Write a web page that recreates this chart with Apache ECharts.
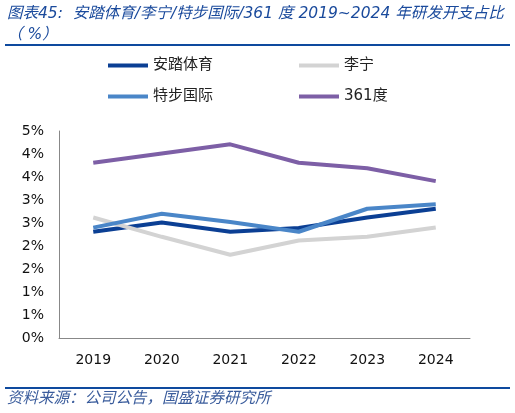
<!DOCTYPE html>
<html>
<head>
<meta charset="utf-8">
<script src="https://cdn.jsdelivr.net/npm/echarts@6/dist/echarts.min.js"></script>
<style>
  html, body { margin: 0; padding: 0; background: #fff; }
  #chart { width: 515px; height: 413px; }
</style>
</head>
<body>
<div id="chart"></div>
<script>
// data (%)
var years = ['2019', '2020', '2021', '2022', '2023', '2024'];
var anta = [2.31, 2.51, 2.31, 2.39, 2.62, 2.81];
var lining = [2.62, 2.20, 1.81, 2.12, 2.20, 2.40];
var xtep = [2.40, 2.70, 2.52, 2.31, 2.81, 2.91];
var d361 = [3.81, 4.01, 4.21, 3.81, 3.69, 3.41];

var names = ['安踏体育', '李宁', '特步国际', '361度'];
var colors = ['#0B3F94', '#D3D3D3', '#4A86C8', '#7D5FA6'];

var cjk = "'DejaVu Sans', 'Noto Sans CJK SC', sans-serif";

function line(name, data, color) {
  return {
    name: name,
    type: 'line',
    data: data,
    symbol: 'none',
    lineStyle: { width: 4, color: color },
    itemStyle: { color: color }
  };
}

var legendText = { fontSize: 15, color: '#222', fontFamily: cjk };

var chart = echarts.init(document.getElementById('chart'));
var option = {
  animation: false,
  textStyle: { fontFamily: cjk },
  graphic: [
    {
      type: 'text', left: 7, top: 3,
      style: {
        text: '图表45:  安踏体育/李宁/特步国际/361 度 2019~2024 年研发开支占比\n（ %）',
        font: 'italic 15.5px ' + cjk,
        fill: '#1A4A9C',
        lineHeight: 21
      }
    },
    { type: 'rect', shape: { x: 5, y: 44, width: 505, height: 2 }, style: { fill: '#0E4A9E' } },
    { type: 'rect', shape: { x: 5, y: 387, width: 505, height: 2 }, style: { fill: '#0E4A9E' } },
    {
      type: 'text', left: 7, top: 391,
      style: {
        text: '资料来源：公司公告，国盛证券研究所',
        font: 'italic 15.5px ' + cjk,
        fill: '#3A5C9C'
      }
    }
  ],
  legend: [
    {
      data: [names[0], names[1]],
      top: 58, left: 108, padding: 0, itemGap: 86,
      itemWidth: 40, itemHeight: 4, icon: 'rect',
      textStyle: legendText
    },
    {
      data: [names[2], names[3]],
      top: 89, left: 108, padding: 0, itemGap: 86,
      itemWidth: 40, itemHeight: 4, icon: 'rect',
      textStyle: legendText
    }
  ],
  grid: { left: 59, right: 45, top: 131, bottom: 75 },
  xAxis: {
    type: 'category',
    data: years,
    boundaryGap: true,
    axisLine: { lineStyle: { color: '#888', width: 1 } },
    axisTick: { inside: true, length: 5, lineStyle: { color: '#888' } },
    axisLabel: { color: '#111', fontSize: 14, margin: 15 }
  },
  yAxis: {
    type: 'value',
    min: 0, max: 4.5, interval: 0.5,
    axisLine: { show: true, lineStyle: { color: '#888', width: 1 } },
    axisTick: { show: false },
    splitLine: { show: false },
    axisLabel: {
      color: '#111', fontSize: 14, margin: 15,
      formatter: function (v) { return Math.round(v) + '%'; }
    }
  },
  series: [
    line(names[0], anta, colors[0]),
    line(names[1], lining, colors[1]),
    line(names[2], xtep, colors[2]),
    line(names[3], d361, colors[3])
  ]
};
chart.setOption(option);
</script>
</body>
</html>
